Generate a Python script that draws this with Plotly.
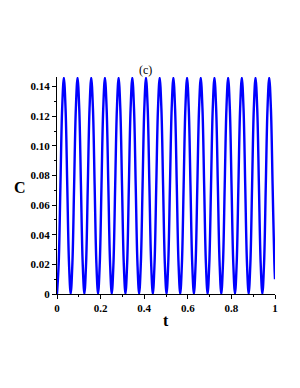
import plotly.graph_objects as go

# sample times (~8 samples per oscillation)
t = [0, .0079, .0157, .0236, .0314, .0393, .0471, .0550,
     .0628, .0707, .0785, .0864, .0942, .1021, .1099, .1178,
     .1256, .1335, .1413, .1492, .1570, .1649, .1727, .1806,
     .1884, .1963, .2041, .2120, .2198, .2277, .2355, .2434,
     .2512, .2591, .2669, .2748, .2826, .2905, .2983, .3062,
     .3140, .3219, .3297, .3376, .3454, .3533, .3611, .3690,
     .3768, .3847, .3925, .4004, .4082, .4161, .4239, .4318,
     .4396, .4475, .4553, .4632, .4710, .4789, .4867, .4946,
     .5024, .5103, .5181, .5260, .5338, .5417, .5495, .5574,
     .5652, .5731, .5809, .5888, .5966, .6045, .6123, .6202,
     .6280, .6359, .6437, .6516, .6594, .6673, .6751, .6830,
     .6908, .6987, .7065, .7144, .7222, .7301, .7379, .7458,
     .7536, .7615, .7693, .7772, .7850, .7929, .8007, .8086,
     .8164, .8243, .8321, .8400, .8478, .8557, .8635, .8714,
     .8792, .8871, .8949, .9028, .9106, .9185, .9263, .9342,
     .9420, .9499, .9577, .9656, .9734, .9813, .9891, .9970,
     1.0]

# concentration values
C = [0, .021, .073, .125, .146, .125, .073, .021,
     0, .021, .073, .125, .146, .125, .073, .021,
     0, .021, .073, .125, .146, .125, .073, .021,
     0, .021, .073, .125, .146, .125, .073, .021,
     0, .021, .073, .125, .146, .125, .073, .021,
     0, .021, .073, .125, .146, .125, .073, .021,
     0, .021, .073, .125, .146, .125, .073, .021,
     0, .021, .073, .125, .146, .125, .073, .021,
     0, .021, .073, .125, .146, .125, .073, .021,
     0, .021, .073, .125, .146, .125, .073, .021,
     0, .021, .073, .125, .146, .125, .073, .021,
     0, .021, .073, .125, .146, .125, .073, .021,
     0, .021, .073, .125, .146, .125, .073, .021,
     0, .021, .073, .125, .146, .125, .073, .021,
     0, .021, .073, .125, .146, .125, .073, .021,
     0, .021, .073, .125, .146, .125, .073, .021,
     .010]

x_ticks = [0, 0.2, 0.4, 0.6, 0.8, 1]
x_ticklabels = ["0", "0.2", "0.4", "0.6", "0.8", "1"]
y_ticks = [0, 0.02, 0.04, 0.06, 0.08, 0.10, 0.12, 0.14]
y_ticklabels = ["0", "0.02", "0.04", "0.06", "0.08", "0.10", "0.12", "0.14"]

font_fam = "Liberation Serif, Times New Roman, serif"

fig = go.Figure(go.Scatter(x=t, y=C, mode="lines", line_shape="spline",
                           line=dict(color="#0000FF", width=2.4),
                           hoverinfo="skip"))

# page body has an 8px margin, so the figure is sized to fit the window
fig.update_layout(
    width=292, height=380,
    margin=dict(l=49, r=25, t=69, b=94),
    paper_bgcolor="white", plot_bgcolor="white",
    showlegend=False,
    font=dict(family=font_fam, color="black"),
    xaxis=dict(range=[0, 1], tickvals=x_ticks, ticktext=x_ticklabels,
               showgrid=False, zeroline=False, showline=True,
               linecolor="black", linewidth=1, ticks="outside", ticklen=4,
               tickcolor="black",
               minor=dict(dtick=0.1, ticks="outside", ticklen=2, tickcolor="black"),
               tickfont=dict(family=font_fam, size=11, color="black", weight="bold")),
    yaxis=dict(range=[0, 0.1465], tickvals=y_ticks, ticktext=y_ticklabels,
               showgrid=False, zeroline=False, showline=True,
               linecolor="black", linewidth=1, ticks="outside", ticklen=4,
               tickcolor="black",
               minor=dict(dtick=0.01, ticks="outside", ticklen=2, tickcolor="black"),
               tickfont=dict(family=font_fam, size=11, color="black", weight="bold")),
    annotations=[
        dict(text="(c)", xref="paper", yref="paper", x=0.406, y=1.032,
             showarrow=False, xanchor="center", yanchor="middle",
             font=dict(family=font_fam, size=12, color="black")),
        dict(text="<b>C</b>", xref="paper", yref="paper", x=-0.168, y=0.493,
             showarrow=False, xanchor="center", yanchor="middle",
             font=dict(family=font_fam, size=16, color="black")),
        dict(text="<b>t</b>", xref="paper", yref="paper", x=0.498, y=-0.12,
             showarrow=False, xanchor="center", yanchor="middle",
             font=dict(family=font_fam, size=16, color="black")),
    ],
)

fig.write_html("out.html")
